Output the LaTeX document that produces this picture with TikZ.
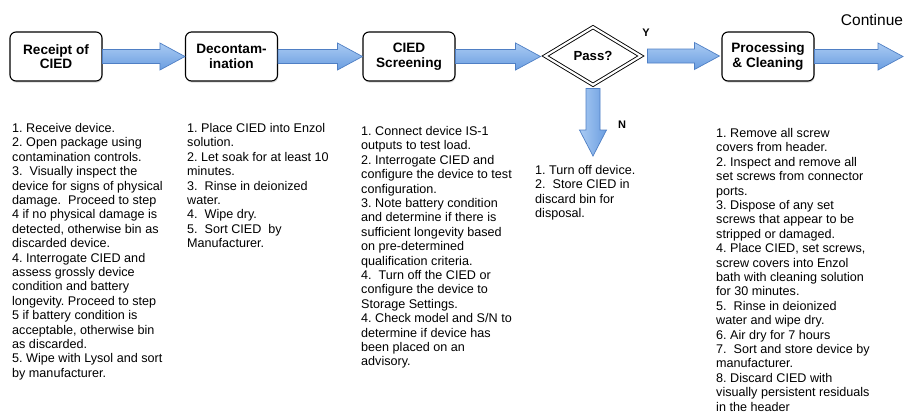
\documentclass[tikz,border=0pt]{standalone}
\usepackage{fontspec}
\setmainfont{Liberation Sans}
\usetikzlibrary{shapes.geometric,shadows,calc}
\definecolor{arrtop}{HTML}{AACBF3}
\definecolor{arrbot}{HTML}{6A9DE0}
\definecolor{arredge}{HTML}{4F7FC4}
\newcommand\hfat[2]{\path[fatarrow] let \p1=(#1), \p2=(#2) in
  (\x1,\y1+7pt) -- (\x2-25pt,\y1+7pt) -- (\x2-25pt,\y1+13.5pt) -- (\x2,\y1)
  -- (\x2-25pt,\y1-13.5pt) -- (\x2-25pt,\y1-7pt) -- (\x1,\y1-7pt) -- cycle;}
\newcommand\vfat[2]{\path[fatarrowv] let \p1=(#1), \p2=(#2) in
  (\x1-7pt,\y1) -- (\x1-7pt,\y2+26pt) -- (\x1-13.5pt,\y2+26pt) -- (\x1,\y2)
  -- (\x1+13.5pt,\y2+26pt) -- (\x1+7pt,\y2+26pt) -- (\x1+7pt,\y1) -- cycle;}
\begin{document}
\begin{tikzpicture}[x=1pt,y=-1pt,
  stepbox/.style={draw=black, line width=1.1pt, rounded corners=6pt, fill=white,
    minimum width=92pt, minimum height=49pt, inner sep=0pt, align=center,
    font=\bfseries\fontsize{13.6}{14.5}\selectfont,
    drop shadow={opacity=0.3, shadow xshift=0.6pt, shadow yshift=-1.6pt}},
  decision/.style={diamond, draw=black, double, double distance=2.2pt, line width=0.9pt,
    minimum width=96pt, minimum height=58pt, inner sep=0pt, fill=white,
    font=\bfseries\fontsize{13.2}{14}\selectfont},
  fatarrow/.style={draw=arredge, line width=0.7pt, top color=arrtop, bottom color=arrbot},
  fatarrowv/.style={draw=arredge, line width=0.7pt, left color=arrtop, right color=arrbot},
  txt/.style={anchor=north west, inner sep=0pt, align=left,
    font=\frenchspacing\fontsize{12.6}{14.4}\selectfont},
  yn/.style={inner sep=0pt, font=\bfseries\fontsize{11}{12}\selectfont}
]
\useasboundingbox (0,0) rectangle (913,413);

\node[stepbox] (receipt) at (56,56.5) {Receipt of\\CIED};
\node[stepbox] (decon) at (231.5,56.5) {Decontam-\\ination};
\node[stepbox] (screen) at (409,56.5) {CIED\\Screening};
\node[decision] (pass) at (593,56) {Pass?};
\node[stepbox] (proc) at (768,56.5) {Processing\\\& Cleaning};
\coordinate (cont) at (903,56.5);
\coordinate (down) at (593,156);

\node[inner sep=0pt, font=\fontsize{15.5}{17}\selectfont] (conttext) at (872,20) {Continue};
\node[yn] (ylab) at (646,33) {Y};
\node[yn] (nlab) at (622,125) {N};

\hfat{receipt.east}{decon.west}
\hfat{decon.east}{screen.west}
\hfat{screen.east}{$(pass.west)+(-4,0)$}
\hfat{$(pass.east)+(6,0)$}{$(proc.west)+(-2,0)$}
\hfat{proc.east}{cont}
\vfat{$(pass.south)+(0,3)$}{down}

\node[txt] (t1) at (12,123.2) {1. Receive device.\\
2. Open package using\\
contamination controls.\\
3.~~Visually inspect the\\
device for signs of physical\\
damage.~~Proceed to step\\
4 if no physical damage is\\
detected, otherwise bin as\\
discarded device.\\
4. Interrogate CIED and\\
assess grossly device\\
condition and battery\\
longevity. Proceed to step\\
5 if battery condition is\\
acceptable, otherwise bin\\
as discarded.\\
5. Wipe with Lysol and sort\\
by manufacturer.};

\node[txt] (t2) at (187,123.2) {1. Place CIED into Enzol\\
solution.\\
2. Let soak for at least 10\\
minutes.\\
3.~~Rinse in deionized\\
water.\\
4.~~Wipe dry.\\
5.~~Sort CIED~~by\\
Manufacturer.};

\node[txt] (t3) at (361,126.2) {1. Connect device IS-1\\
outputs to test load.\\
2. Interrogate CIED and\\
configure the device to test\\
configuration.\\
3. Note battery condition\\
and determine if there is\\
sufficient longevity based\\
on pre-determined\\
qualification criteria.\\
4.~~Turn off the CIED or\\
configure the device to\\
Storage Settings.\\
4. Check model and S/N to\\
determine if device has\\
been placed on an\\
advisory.};

\node[txt] (t4) at (535,165.2) {1. Turn off device.\\
2.~~Store CIED in\\
discard bin for\\
disposal.};

\node[txt] (t5) at (716,128.2) {1. Remove all screw\\
covers from header.\\
2. Inspect and remove all\\
set screws from connector\\
ports.\\
3. Dispose of any set\\
screws that appear to be\\
stripped or damaged.\\
4. Place CIED, set screws,\\
screw covers into Enzol\\
bath with cleaning solution\\
for 30 minutes.\\
5.~~Rinse in deionized\\
water and wipe dry.\\
6. Air dry for 7 hours\\
7.~~Sort and store device by\\
manufacturer.\\
8. Discard CIED with\\
visually persistent residuals\\
in the header};
\end{tikzpicture}
\end{document}
